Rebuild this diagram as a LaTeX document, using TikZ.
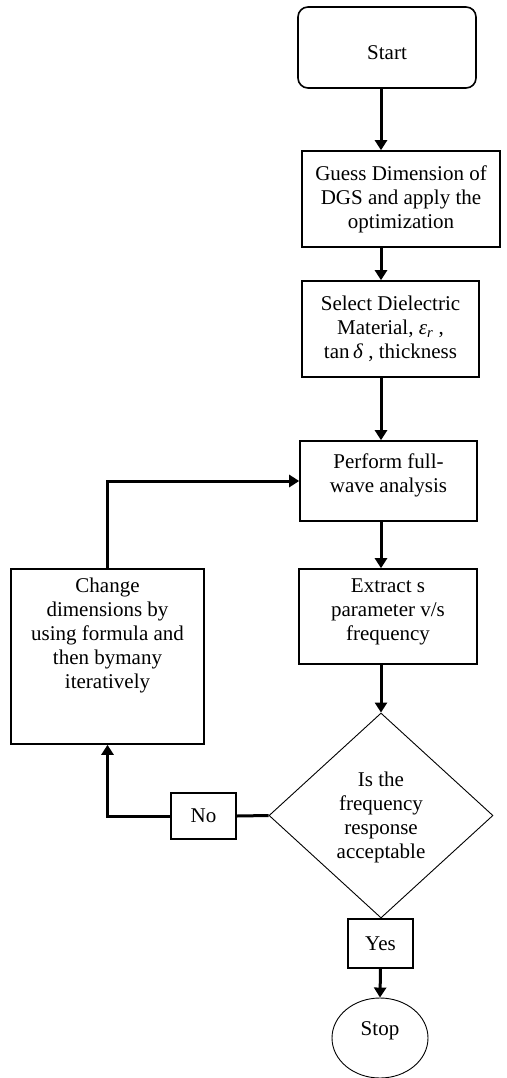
\documentclass[tikz,border=0pt]{standalone}
\usepackage{fontspec}
\setmainfont{Liberation Serif}
\usetikzlibrary{shapes.geometric,arrows.meta}
\begin{document}
\begin{tikzpicture}[x=1pt,y=-1pt,
  every node/.style={font=\fontsize{21}{24}\selectfont, align=center, inner sep=0pt},
  box/.style={draw, line width=1.6pt},
  thin/.style={draw, line width=0.9pt},
  arr/.style={line width=3pt, -{Triangle[length=10pt,width=12pt]}},
  link/.style={line width=3pt}]
\useasboundingbox[fill=white] (0,0) rectangle (506,1078);
\node[box, rounded corners=10pt, minimum width=178pt, minimum height=81pt] (start) at (387,47.5) {};
\node (starttext) at (387,53) {Start};
\node[box, minimum width=198pt, minimum height=96pt] (guess) at (401,199) {Guess Dimension of\\DGS and apply the\\optimization};
\node[box, minimum width=177pt, minimum height=96pt] (select) at (390.5,329) {Select Dielectric\\Material, \textit{ε}\textsubscript{\textit{r}} ,\\tan\,\textit{δ} , thickness};
\node[box, minimum width=177pt, minimum height=80pt] (perform) at (388.5,481) {};
\node (performtext) at (388.5,475) {Perform full-\\wave analysis};
\node[box, minimum width=178pt, minimum height=95pt] (extract) at (388,616.5) {};
\node (extracttext) at (388,612) {Extract s\\parameter v/s\\frequency};
\node[box, minimum width=193pt, minimum height=175pt] (change) at (107.5,656.5) {};
\node[anchor=north] (changetext) at (107.5,578) {Change\\dimensions by\\using formula and\\then bymany\\iteratively};
\node[thin, diamond, minimum width=224pt, minimum height=205pt] (dec) at (381,815.5) {};
\node (dectext) at (381,817) {Is the\\frequency\\response\\acceptable};
\node[box, minimum width=65pt, minimum height=46pt] (no) at (203.5,816) {No};
\node[box, minimum width=65pt, minimum height=49pt] (yes) at (380.5,943.5) {Yes};
\node[thin, ellipse, minimum width=96pt, minimum height=80pt] (stop) at (380,1038) {};
\node (stoptext) at (380,1031) {Stop};
\draw[arr] (start.south -| dec.north) -- (guess.north -| dec.north);
\draw[arr] (guess.south -| dec.north) -- (select.north -| dec.north);
\draw[arr] (select.south -| dec.north) -- (perform.north -| dec.north);
\draw[arr] (perform.south -| dec.north) -- (extract.north -| dec.north);
\draw[arr] (extract.south -| dec.north) -- (dec.north);
\draw[arr] (change.north) |- (perform.west);
\draw[link] (dec.west) -- (no.east);
\draw[arr] (no.west) -| (change.south);
\draw[arr] (yes.south) -- (stop.north);
\end{tikzpicture}
\end{document}
